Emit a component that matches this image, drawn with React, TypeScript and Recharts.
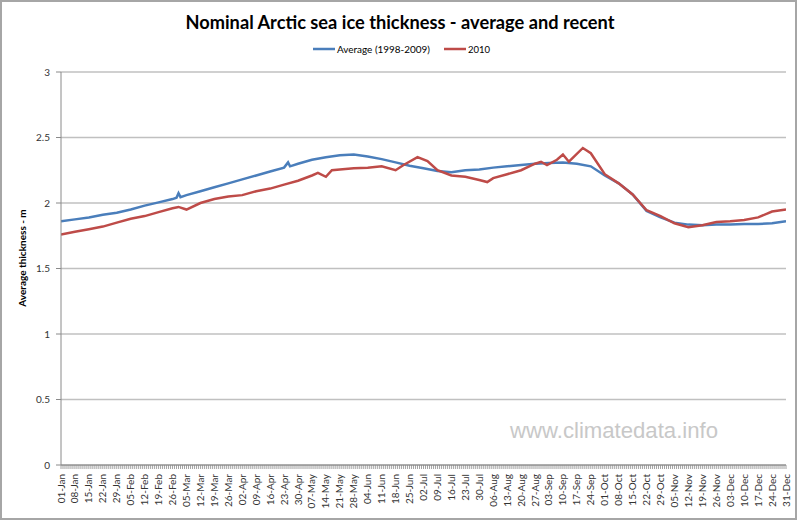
import React from 'react';
import { LineChart, Line, XAxis, YAxis, CartesianGrid } from 'recharts';

// day of year (0 = 01-Jan) and thickness in metres
const avgDays = [0, 7, 14, 21, 28, 35, 42, 49, 56, 58, 59, 60, 63, 70, 77, 84, 91, 98, 105, 112, 114, 115, 119, 126, 133, 140, 147, 154, 161, 168, 175, 182, 189, 196, 203, 210, 217, 224, 231, 238, 245, 252, 259, 266, 273, 280, 287, 294, 301, 308, 315, 322, 329, 336, 343, 350, 357, 364];
const avgThickness = [1.86, 1.875, 1.89, 1.91, 1.925, 1.95, 1.98, 2.005, 2.03, 2.04, 2.075, 2.045, 2.06, 2.09, 2.12, 2.15, 2.18, 2.21, 2.24, 2.27, 2.31, 2.28, 2.3, 2.33, 2.35, 2.365, 2.37, 2.355, 2.335, 2.31, 2.285, 2.265, 2.245, 2.235, 2.25, 2.255, 2.27, 2.28, 2.29, 2.3, 2.305, 2.31, 2.3, 2.28, 2.21, 2.15, 2.065, 1.94, 1.89, 1.85, 1.835, 1.83, 1.835, 1.835, 1.84, 1.84, 1.845, 1.86];

const recentDays = [0, 7, 14, 21, 28, 35, 42, 49, 56, 59, 63, 70, 77, 84, 91, 98, 105, 112, 119, 126, 129, 133, 136, 140, 147, 154, 161, 168, 172, 179, 184, 189, 196, 203, 210, 214, 217, 224, 231, 238, 241, 244, 249, 252, 255, 262, 266, 273, 280, 287, 294, 301, 308, 315, 322, 329, 336, 343, 350, 357, 364];
const recentThickness = [1.76, 1.78, 1.8, 1.82, 1.85, 1.88, 1.9, 1.93, 1.96, 1.97, 1.95, 2.0, 2.03, 2.05, 2.06, 2.09, 2.11, 2.14, 2.17, 2.21, 2.23, 2.2, 2.25, 2.255, 2.265, 2.27, 2.28, 2.25, 2.29, 2.35, 2.32, 2.25, 2.21, 2.2, 2.175, 2.16, 2.19, 2.22, 2.25, 2.3, 2.315, 2.29, 2.33, 2.37, 2.315, 2.42, 2.38, 2.22, 2.15, 2.065, 1.945, 1.9, 1.845, 1.815, 1.83, 1.855, 1.86, 1.87, 1.89, 1.935, 1.95];

const weekLabels = ['01-Jan', '08-Jan', '15-Jan', '22-Jan', '29-Jan', '05-Feb', '12-Feb', '19-Feb', '26-Feb', '05-Mar', '12-Mar', '19-Mar', '26-Mar', '02-Apr', '09-Apr', '16-Apr', '23-Apr', '30-Apr', '07-May', '14-May', '21-May', '28-May', '04-Jun', '11-Jun', '18-Jun', '25-Jun', '02-Jul', '09-Jul', '16-Jul', '23-Jul', '30-Jul', '06-Aug', '13-Aug', '20-Aug', '27-Aug', '03-Sep', '10-Sep', '17-Sep', '24-Sep', '01-Oct', '08-Oct', '15-Oct', '22-Oct', '29-Oct', '05-Nov', '12-Nov', '19-Nov', '26-Nov', '03-Dec', '10-Dec', '17-Dec', '24-Dec', '31-Dec'];
const yTicks = [0, 0.5, 1, 1.5, 2, 2.5, 3];

const avgData = avgDays.map((d, i) => ({ day: d, value: avgThickness[i] }));
const recentData = recentDays.map((d, i) => ({ day: d, value: recentThickness[i] }));
const dayTicks = Array.from({ length: 365 }, (_, i) => i);

const BLUE = '#4a7ebb';
const RED = '#be4b48';
const FONT = 'Lato, "Open Sans", sans-serif';

// every day gets a small tick mark, every 7th day also a rotated label
function DayTick(props: any) {
  const { x, y, payload } = props;
  const day = payload.value;
  const label = day % 7 === 0 ? weekLabels[day / 7] : null;
  return (
    <g>
      <line x1={x} y1={y - 6} x2={x} y2={y - 2} stroke="#8a8a8a" strokeWidth={0.8} />
      {label && (
        <text
          x={x + 3.5}
          y={y + 3}
          transform={`rotate(-90, ${x + 3.5}, ${y + 3})`}
          textAnchor="end"
          fontSize={10}
          fontFamily={FONT}
          fill="#333"
        >
          {label}
        </text>
      )}
    </g>
  );
}

export default function App() {
  return (
    <div style={{ position: 'fixed', left: 0, top: 0, width: 800, height: 522, background: '#fff' }}>
      <LineChart
        width={800}
        height={522}
        margin={{ top: 72, right: 14, left: 0, bottom: 0 }}
        style={{ position: 'absolute', left: 0, top: 0 }}
      >
        <CartesianGrid horizontal vertical={false} stroke="#c0c0c0" strokeWidth={1.5} />
        <XAxis
          type="number"
          dataKey="day"
          domain={[0, 364]}
          ticks={dayTicks}
          interval={0}
          tick={<DayTick />}
          tickSize={4}
          tickMargin={2}
          tickLine={false}
          axisLine={{ stroke: '#8a8a8a' }}
          allowDataOverflow
          height={57}
        />
        <YAxis
          type="number"
          domain={[0, 3]}
          ticks={yTicks}
          width={61}
          tickSize={5}
          tickMargin={6}
          tickLine={{ stroke: '#8a8a8a' }}
          axisLine={{ stroke: '#8a8a8a' }}
          tick={{ fontSize: 10, fontFamily: FONT, fill: '#333' }}
        />
        <Line
          data={avgData}
          dataKey="value"
          type="linear"
          stroke={BLUE}
          strokeWidth={2.5}
          dot={false}
          activeDot={false}
          isAnimationActive={false}
        />
        <Line
          data={recentData}
          dataKey="value"
          type="linear"
          stroke={RED}
          strokeWidth={2.5}
          dot={false}
          activeDot={false}
          isAnimationActive={false}
        />
      </LineChart>
      <svg width={800} height={522} style={{ position: 'absolute', left: 0, top: 0, pointerEvents: 'none' }}>
        <rect x={1} y={1} width={795} height={518} fill="none" stroke="#a6a6a6" strokeWidth={2} />
        <text x={400} y={29} textAnchor="middle" fontSize={18} fontWeight="bold" fontFamily={FONT} fill="#000" textLength={429} lengthAdjust="spacingAndGlyphs">
          Nominal Arctic sea ice thickness - average and recent
        </text>
        <line x1={313} y1={49} x2={335} y2={49} stroke={BLUE} strokeWidth={2.5} />
        <text x={337} y={52.5} fontSize={10} fontFamily={FONT} fill="#000" textLength={93} lengthAdjust="spacingAndGlyphs">
          Average (1998-2009)
        </text>
        <line x1={444} y1={49} x2={466} y2={49} stroke={RED} strokeWidth={2.5} />
        <text x={468} y={52.5} fontSize={10} fontFamily={FONT} fill="#000" textLength={22} lengthAdjust="spacingAndGlyphs">
          2010
        </text>
        <text
          x={22}
          y={258}
          transform="rotate(-90, 22, 258)"
          textAnchor="middle"
          dominantBaseline="central"
          fontSize={10}
          fontWeight="bold"
          fontFamily={FONT}
          fill="#000"
        >
          Average thickness - m
        </text>
        <text x={510} y={438} fontSize={22} fontFamily='"Liberation Sans", Arial, sans-serif' fill="#c8c8c8" textLength={208} lengthAdjust="spacingAndGlyphs">
          www.climatedata.info
        </text>
      </svg>
    </div>
  );
}
